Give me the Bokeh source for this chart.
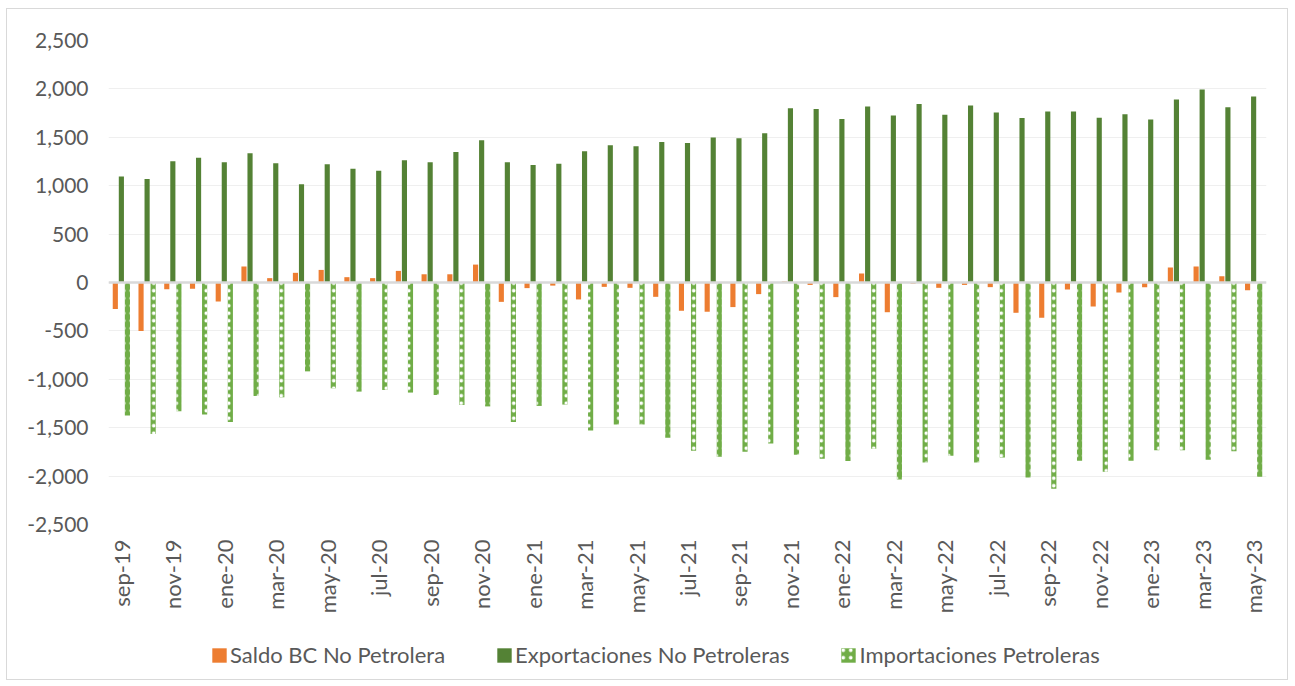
import math
from bokeh.plotting import figure
from bokeh.layouts import column
from bokeh.models import (Range1d, FixedTicker, Span, Legend, LegendItem,
                          ColumnDataSource, NumeralTickFormatter)
from bokeh.transform import dodge
from bokeh.embed import file_html
from bokeh.resources import INLINE

months = ["sep-19", "oct-19", "nov-19", "dic-19",
          "ene-20", "feb-20", "mar-20", "abr-20", "may-20", "jun-20",
          "jul-20", "ago-20", "sep-20", "oct-20", "nov-20", "dic-20",
          "ene-21", "feb-21", "mar-21", "abr-21", "may-21", "jun-21",
          "jul-21", "ago-21", "sep-21", "oct-21", "nov-21", "dic-21",
          "ene-22", "feb-22", "mar-22", "abr-22", "may-22", "jun-22",
          "jul-22", "ago-22", "sep-22", "oct-22", "nov-22", "dic-22",
          "ene-23", "feb-23", "mar-23", "abr-23", "may-23"]

saldo_bc_no_petrolera = [-275, -500, -70, -65,
                         -195, 165, 45, 100, 130, 55,
                         45, 120, 85, 85, 185, -200,
                         -58, -32, -175, -45, -55, -148,
                         -292, -302, -254, -120, 10, -25,
                         -151, 93, -307, -12, -55, -25,
                         -48, -313, -365, -72, -247, -103,
                         -48, 155, 165, 65, -79]

exportaciones_no_petroleras = [1095, 1068, 1252, 1290,
                               1241, 1334, 1231, 1016, 1221, 1176,
                               1155, 1262, 1241, 1348, 1469, 1241,
                               1214, 1228, 1355, 1417, 1407, 1452,
                               1441, 1497, 1490, 1541, 1800, 1793,
                               1690, 1817, 1724, 1845, 1734, 1828,
                               1755, 1700, 1766, 1766, 1703, 1738,
                               1683, 1890, 1993, 1810, 1921]

importaciones_petroleras = [-1375, -1564, -1330, -1364,
                            -1440, -1172, -1186, -918, -1093, -1127,
                            -1110, -1137, -1162, -1265, -1280, -1440,
                            -1275, -1261, -1529, -1467, -1467, -1605,
                            -1739, -1801, -1749, -1663, -1780, -1821,
                            -1845, -1718, -2034, -1859, -1790, -1859,
                            -1808, -2014, -2131, -1842, -1955, -1842,
                            -1732, -1732, -1832, -1742, -2007]

series_names = ["Saldo BC No Petrolera", "Exportaciones No Petroleras",
                "Importaciones Petroleras"]
series_fields = ["saldo", "expo", "impo"]

y_ticks = [-2500, -2000, -1500, -1000, -500, 0, 500, 1000, 1500, 2000, 2500]

FONT = "Lato"
ORANGE = "#ED7D31"
DARK_GREEN = "#548235"
LIGHT_GREEN = "#70AD47"
TEXT = "#595959"
W = 1280

idx = list(range(len(months)))
src = ColumnDataSource(dict(x=idx, saldo=saldo_bc_no_petrolera,
                            expo=exportaciones_no_petroleras,
                            impo=importaciones_petroleras))

p = figure(width=W, height=620, output_backend="svg", toolbar_location=None,
           x_range=Range1d(-0.5, len(months) - 0.5),
           y_range=Range1d(y_ticks[0], y_ticks[-1]),
           min_border_left=101, min_border_right=21, min_border_top=31,
           min_border_bottom=105)
p.outline_line_color = None
p.background_fill_color = "white"

off = 0.235
w = 0.2
styles = [dict(fill_color=ORANGE, line_color=None),
          dict(fill_color=DARK_GREEN, line_color=None),
          dict(fill_color=LIGHT_GREEN, line_color=None, hatch_pattern="dot",
               hatch_color="white", hatch_scale=7.5, hatch_weight=1.2)]
offsets = [-off, 0, off]

for fld, st, o in zip(series_fields, styles, offsets):
    p.vbar(x=dodge("x", o), top=fld, bottom=0, width=w, source=src, **st)

p.add_layout(Span(location=0, dimension="width", line_color="#d9d9d9",
                  line_width=2.5))

# y axis
p.yaxis.ticker = FixedTicker(ticks=y_ticks)
p.yaxis.formatter = NumeralTickFormatter(format="0,0")
p.yaxis.axis_line_color = None
p.yaxis.major_tick_line_color = None
p.yaxis.minor_tick_line_color = None
p.yaxis.major_label_text_font = FONT
p.yaxis.major_label_text_font_size = "21px"
p.yaxis.major_label_text_color = TEXT
p.yaxis.major_label_standoff = 14

# x axis
p.xaxis.ticker = FixedTicker(ticks=idx[::2])
p.xaxis.major_label_overrides = {i: months[i] for i in idx[::2]}
p.xaxis.major_label_orientation = math.pi / 2
p.xaxis.axis_line_color = None
p.xaxis.major_tick_line_color = None
p.xaxis.minor_tick_line_color = None
p.xaxis.major_label_text_font = FONT
p.xaxis.major_label_text_font_size = "22px"
p.xaxis.major_label_text_color = TEXT
p.xaxis.major_label_standoff = 9

p.xgrid.grid_line_color = None
p.ygrid.ticker = FixedTicker(ticks=y_ticks)
p.ygrid.grid_line_color = "#efefef"
p.ygrid.grid_line_width = 1

# legend strip: a small figure whose view range shows none of the bars,
# so only its legend is visible (a legend outside a frame would be clipped)
lg = figure(width=W, height=50, output_backend="svg", toolbar_location=None,
            x_range=Range1d(1000, 1001), y_range=Range1d(100000, 100001),
            x_axis_location=None, y_axis_location=None,
            min_border=0)
lg.outline_line_color = None
lg.xgrid.visible = False
lg.ygrid.visible = False
items = []
for name, fld, st in zip(series_names, series_fields, styles):
    r = lg.vbar(x="x", top=fld, bottom=0, width=w, source=src, **st)
    items.append(LegendItem(label=name, renderers=[r]))

legend = Legend(items=items, orientation="horizontal", location=(102, 11),
                label_text_font=FONT, label_text_font_size="22px",
                label_text_color=TEXT, glyph_width=18, glyph_height=18,
                spacing=50, label_standoff=2, border_line_color=None,
                background_fill_alpha=0, margin=0, padding=2)
lg.add_layout(legend, "center")

layout = column(p, lg, spacing=0,
                styles={"border": "1px solid #d9d9d9", "margin-left": "6px",
                        "margin-top": "8px"})

open("out.html", "w").write(file_html(layout, INLINE))
